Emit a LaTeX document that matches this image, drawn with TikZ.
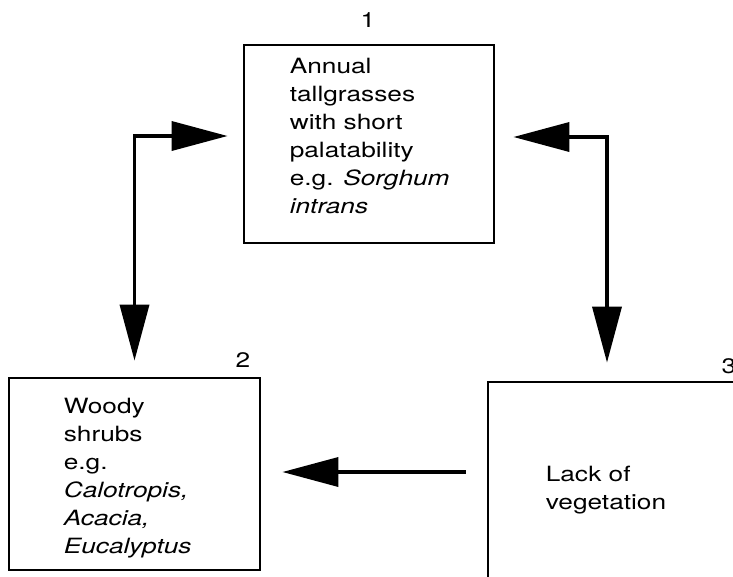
\documentclass[tikz,border=0pt]{standalone}
\usepackage{fontspec}
\setmainfont[FakeStretch=1.25]{TeX Gyre Heros}
\usepackage{tikz}
\usetikzlibrary{arrows.meta,positioning,calc}

\begin{document}
\begin{tikzpicture}[x=1pt,y=-1pt,>={Triangle[length=56pt,width=29pt]},
  box/.style={draw,line width=2.8pt,minimum width=250pt,minimum height=198pt,inner sep=0pt},
  txt/.style={anchor=base west,align=left,inner sep=0pt,font=\fontsize{21pt}{28pt}\selectfont},
  num/.style={inner sep=0pt,font=\fontsize{21pt}{28pt}\selectfont},
  link/.style={line width=3.6pt,line join=miter}]
\useasboundingbox (0,0) rectangle (733,576);
\clip (0,0) rectangle (733,576);
% the three states
\node[box] (b1) at (369,144) {};
\node[box,minimum width=251pt,minimum height=192pt] (b2) at (134.5,474) {};
\node[box] (b3) at (613,481) {};
\node[txt] (t1) at ([xshift=47pt,yshift=-170pt]b1.north west) {Annual\\tallgrasses\\with short\\palatability\\e.g. \textit{Sorghum}\\\textit{intrans}};
\node[txt] (t2) at ([xshift=56pt,yshift=-177pt]b2.north west) {Woody\\shrubs\\e.g.\\\textit{Calotropis,}\\\textit{Acacia,}\\\textit{Eucalyptus}};
\node[txt] (t3) at ([xshift=59pt,yshift=-129pt]b3.north west) {Lack of\\vegetation};
\node[num] (n1) at (368,20) {1};
\node[num] (n2) at (243,360) {2};
\node[num] (n3) at (729,366) {3};
% arrow ends
\coordinate (a1) at ([xshift=-15pt,yshift=8pt]b1.west);
\coordinate (a2) at ([yshift=16pt]b2.north);
\coordinate (a3) at ([xshift=18pt,yshift=7pt]b1.east);
\coordinate (a4) at ([xshift=-6pt,yshift=18pt]b3.north);
\coordinate (a5) at ([xshift=-21pt,yshift=9pt]b3.west);
\coordinate (a6) at ([xshift=21pt,yshift=2pt]b2.east);
\draw[link,<->] (a2) |- (a1);
\draw[link,<->] (a4) |- (a3);
\draw[link,->] (a5) -- (a6);
\end{tikzpicture}
\end{document}
